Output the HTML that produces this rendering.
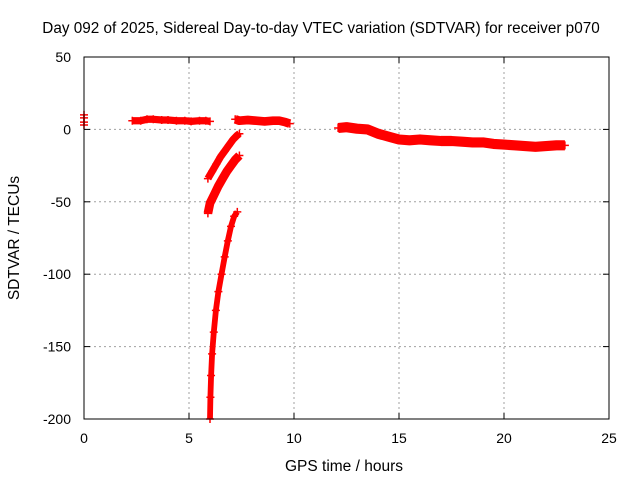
<!DOCTYPE html>
<html><head><meta charset="utf-8"><style>
body{margin:0;background:#fff}
svg{display:block;font-family:"Liberation Sans",sans-serif;font-size:14px}
</style></head><body>
<svg id="chart" width="640" height="480" viewBox="0 0 640 480">
<rect x="0" y="0" width="640" height="480" fill="#fff"/>
<text x="321" y="33" text-anchor="middle" style="font-size:15.3px">Day 092 of 2025, Sidereal Day-to-day VTEC variation (SDTVAR) for receiver p070</text>
<g id="grid"></g>
<g id="series"></g>
<rect x="84" y="57" width="525" height="362" fill="none" stroke="#000" stroke-width="1"/>
<g id="axes"></g>
<text x="344" y="471" text-anchor="middle" style="font-size:15.5px">GPS time / hours</text>
<text transform="translate(19,238) rotate(-90)" text-anchor="middle" style="font-size:15.5px">SDTVAR / TECUs</text>
</svg>
<script>
const xTicks=[0,5,10,15,20,25];
const yTicks=[50,0,-50,-100,-150,-200];
// tracks: [hour, value] points, with band thickness in TECU
const trackStart=[[0,10],[0,8],[0,5],[0,3]];
const trackMorning=[[2.3,6],[2.7,6],[3.0,7],[3.3,7],[3.7,6.5],[4.0,6.5],[4.4,6],[4.8,6],[5.1,5.5],[5.5,6],[5.8,6],[6.0,5.5]];
const trackMid=[[7.2,7],[7.4,6],[7.8,6.5],[8.2,6],[8.6,5.5],[9.0,6],[9.3,6],[9.6,5],[9.8,4]];
const arcA=[[5.9,-34],[6.1,-29],[6.3,-24],[6.5,-19],[6.7,-15],[6.9,-11],[7.1,-7],[7.3,-4],[7.4,-3]];
const arcB=[[5.9,-58],[6.0,-51],[6.2,-45],[6.4,-39],[6.6,-34],[6.8,-29],[7.0,-25],[7.2,-21],[7.4,-18]];
const arcC=[[6.0,-200],[6.02,-185],[6.05,-170],[6.1,-155],[6.18,-140],[6.28,-125],[6.4,-112],[6.55,-100],[6.7,-88],[6.85,-77],[7.0,-67],[7.15,-60],[7.3,-57]];
const trackEvening=[[12.1,1],[12.5,1.5],[13.0,0.5],[13.5,0],[14.0,-3],[14.5,-5],[15.0,-7],[15.5,-7.5],[16.0,-7],[16.5,-7.5],[17.0,-8],[17.5,-8],[18.0,-8.5],[18.5,-9],[19.0,-9],[19.5,-10],[20.0,-10.5],[20.5,-11],[21.0,-11.5],[21.5,-12],[22.0,-11.5],[22.5,-11],[22.9,-11]];
const tracks=[[trackStart,1],[trackMorning,5],[trackMid,6],[arcA,5],[arcB,6],[arcC,4],[trackEvening,7]];
const X=h=>84+h*21, Y=v=>57+(50-v)*362/250;
const NS="http://www.w3.org/2000/svg";
const grid=document.getElementById('grid'),axes=document.getElementById('axes'),ser=document.getElementById('series');
function mk(tag,at,p){const e=document.createElementNS(NS,tag);for(const k in at)e.setAttribute(k,at[k]);p.appendChild(e);return e;}
xTicks.forEach(t=>{const x=X(t);
 if(t>0&&t<25){const g=mk('line',{x1:x,x2:x,y1:57,y2:419,stroke:'#a0a0a0','stroke-dasharray':'2,3'},grid);
 
 }
 const a=mk('line',{x1:x,x2:x,y1:419,y2:413,stroke:'#000'},axes);
 
 
 const b=mk('line',{x1:x,x2:x,y1:57,y2:63,stroke:'#000'},axes);
 
 
 const tx=mk('text',{x:x,y:443,'text-anchor':'middle'},axes);tx.textContent=t;
 
 
});
yTicks.forEach(t=>{const y=Y(t);
 if(t<50&&t>-200){const g=mk('line',{x1:84,x2:609,y1:y,y2:y,stroke:'#a0a0a0','stroke-dasharray':'2,3'},grid);
 
 }
 const a=mk('line',{x1:84,x2:90,y1:y,y2:y,stroke:'#000'},axes);
 
 
 const b=mk('line',{x1:603,x2:609,y1:y,y2:y,stroke:'#000'},axes);
 
 
 const tx=mk('text',{x:71,y:y+5,'text-anchor':'end'},axes);tx.textContent=t;
 
 
});
tracks.forEach(([pts,w])=>{
 const d=pts.map((p,i)=>(i?'L':'M')+X(p[0]).toFixed(1)+','+Y(p[1]).toFixed(1)).join('');
 const pa=mk('path',{d:d,fill:'none',stroke:'#f00','stroke-width':w*1.448,'stroke-linejoin':'round'},ser);
 
 
 pts.forEach(p=>{const x=X(p[0]),y=Y(p[1]);
  const m=mk('path',{d:`M${x-4},${y}h8M${x},${y-4}v8`,stroke:'#f00','stroke-width':1.5},ser);
  
  
 });
});
</script>
</body></html>
